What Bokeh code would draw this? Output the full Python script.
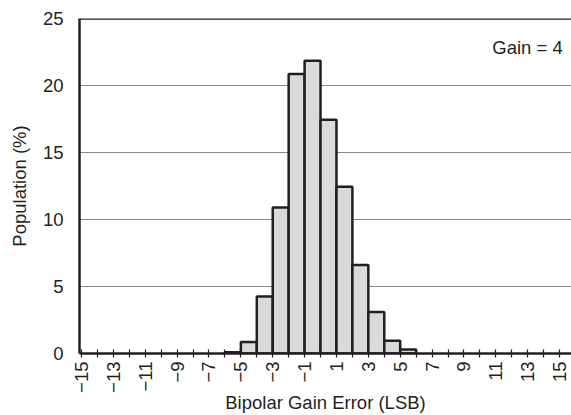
import math
from bokeh.plotting import figure
from bokeh.models import FixedTicker, Span, Label
from bokeh.embed import file_html
from bokeh.resources import INLINE

# Data: histogram bins (left edge, right edge) and population (%)
bin_left = [-6, -5, -4, -3, -2, -1, 0, 1, 2, 3, 4, 5]
bin_right = [-5, -4, -3, -2, -1, 0, 1, 2, 3, 4, 5, 6]
population = [0.1, 0.85, 4.25, 10.9, 20.85, 21.85, 17.45, 12.45, 6.6, 3.1, 0.95, 0.3]

x_ticks = list(range(-15, 16))
x_tick_labels = ["−15", "", "−13", "", "−11", "", "−9", "", "−7", "", "−5", "", "−3", "", "−1", "",
                 "1", "", "3", "", "5", "", "7", "", "9", "", "11", "", "13", "", "15"]
y_ticks = [0, 5, 10, 15, 20, 25]

x_title = "Bipolar Gain Error (LSB)"
y_title = "Population (%)"
note_text = "Gain = 4"
note_x = 15.2
note_y = 22.85

FONT = "Liberation Sans"
TXT = "#231f20"
FS = "18.5px"

p = figure(width=571, height=415, x_range=(-15.126, 15.75), y_range=(0, 25),
           output_backend="svg", toolbar_location=None,
           min_border_left=79, min_border_right=0, min_border_top=18, min_border_bottom=0)
p.outline_line_color = None
p.background_fill_color = "white"
p.border_fill_color = "white"

p.quad(left=bin_left, right=bin_right, bottom=0, top=population,
       fill_color="#d9dadc", line_color=TXT, line_width=2.5)

# x axis
xa = p.xaxis[0]
xa.ticker = FixedTicker(ticks=x_ticks)
xa.major_label_overrides = {t: lab for t, lab in zip(x_ticks, x_tick_labels)}
xa.major_label_orientation = math.pi / 2
xa.minor_tick_line_color = None
xa.major_tick_in = 4
xa.major_tick_out = 4
xa.major_tick_line_width = 1.2
xa.major_tick_line_color = TXT
xa.axis_line_width = 2.5
xa.axis_line_color = TXT
xa.major_label_text_font = FONT
xa.major_label_text_font_size = FS
xa.major_label_text_color = TXT
xa.major_label_standoff = 4
xa.axis_label = x_title
xa.axis_label_text_font = FONT
xa.axis_label_text_font_size = FS
xa.axis_label_text_font_style = "normal"
xa.axis_label_text_color = TXT
xa.axis_label_standoff = -4

# y axis
ya = p.yaxis[0]
ya.ticker = FixedTicker(ticks=y_ticks)
ya.minor_tick_line_color = None
ya.major_tick_in = 0
ya.major_tick_out = 0
ya.axis_line_width = 2.5
ya.axis_line_color = TXT
ya.major_label_text_font = FONT
ya.major_label_text_font_size = FS
ya.major_label_text_color = TXT
ya.major_label_standoff = 16
ya.axis_label = y_title
ya.axis_label_text_font = FONT
ya.axis_label_text_font_size = FS
ya.axis_label_text_font_style = "normal"
ya.axis_label_text_color = TXT
ya.axis_label_standoff = 10

p.xgrid.visible = False
p.ygrid.ticker = FixedTicker(ticks=y_ticks)
p.ygrid.grid_line_color = "#8a8a8a"
p.ygrid.grid_line_width = 1.2

p.add_layout(Span(location=25, dimension="width", line_color=TXT, line_width=2.5))

p.add_layout(Label(x=note_x, y=note_y, text=note_text, text_align="right",
                   text_baseline="alphabetic", text_font=FONT, text_font_size=FS,
                   text_color=TXT))

open("out.html", "w").write(file_html(p, INLINE))
